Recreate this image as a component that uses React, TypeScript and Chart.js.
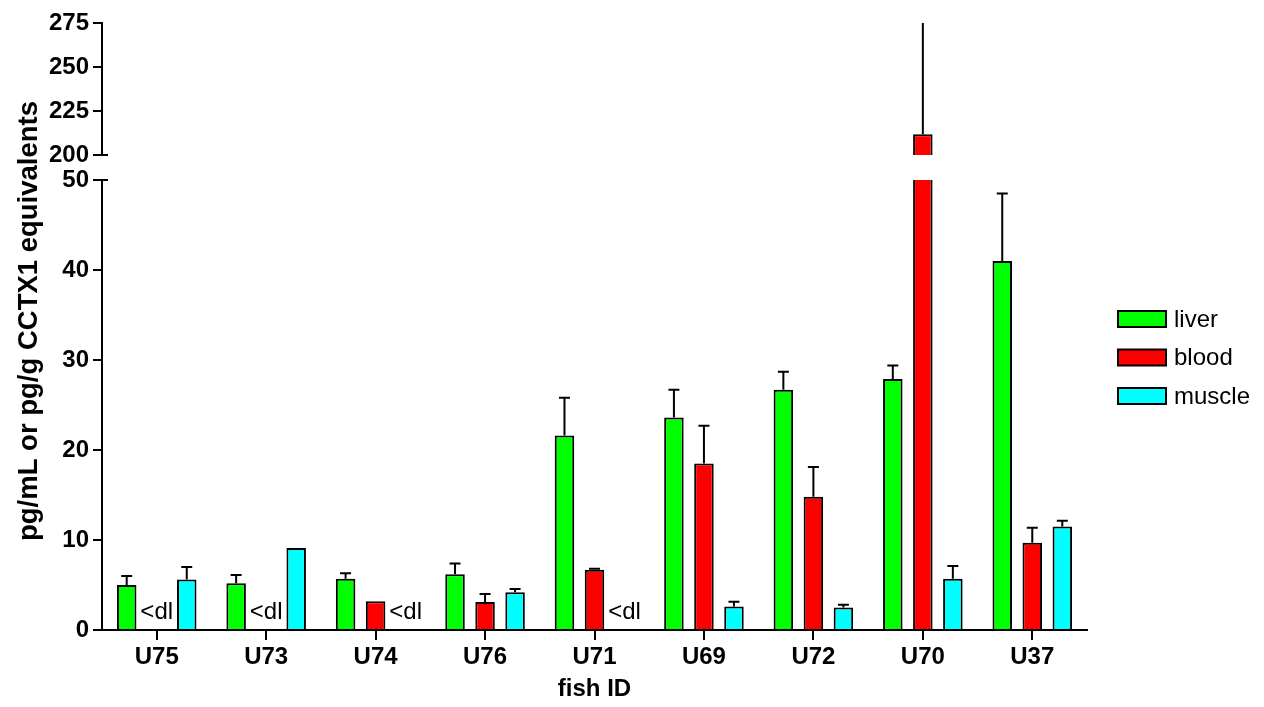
import React, { useEffect, useRef } from 'react';
import { Chart, registerables } from 'chart.js';

Chart.register(...registerables);

// ---- data ----
const categories = ['U75', 'U73', 'U74', 'U76', 'U71', 'U69', 'U72', 'U70', 'U37'];
const seriesNames = ['liver', 'blood', 'muscle'];
const seriesColors = ['#00FF00', '#FF0000', '#00FFFF'];

const liver = [5.0, 5.2, 5.7, 6.2, 21.6, 23.6, 26.7, 27.9, 41.0];
const liverErr = [1.0, 0.9, 0.6, 1.2, 4.2, 3.1, 2.0, 1.5, 7.5];
const blood = [0, 0, 3.2, 3.1, 6.7, 18.5, 14.8, 211.8, 9.7];
const bloodErr = [0, 0, 0, 0.9, 0.1, 4.2, 3.3, 90, 1.65];
const muscle = [5.6, 9.1, 0, 4.2, 0, 2.6, 2.5, 5.7, 11.5];
const muscleErr = [1.4, 0, 0, 0.35, 0, 0.55, 0.3, 1.4, 0.65];

// 1 = below detection limit ("<dl")
const liverBelowDL = [0, 0, 0, 0, 0, 0, 0, 0, 0];
const bloodBelowDL = [1, 1, 0, 0, 0, 0, 0, 0, 0];
const muscleBelowDL = [0, 0, 1, 0, 1, 0, 0, 0, 0];

const lowerTicks = [0, 10, 20, 30, 40, 50];
const upperTicks = [200, 225, 250, 275];

const yTitle = 'pg/mL or pg/g CCTX1 equivalents';
const xTitle = 'fish ID';
const dlLabel = '<dl';

const FONT = "'Liberation Sans', Arial, Helvetica, sans-serif";

function makeDatasets() {
  const vals = [liver, blood, muscle];
  const errs = [liverErr, bloodErr, muscleErr];
  const dls = [liverBelowDL, bloodBelowDL, muscleBelowDL];
  return seriesNames.map((name, i) => ({
    label: name,
    data: vals[i],
    errors: errs[i],
    belowDL: dls[i],
    backgroundColor: seriesColors[i],
    borderColor: '#000',
    borderWidth: 2,
    borderSkipped: 'start',
    categoryPercentage: 0.823,
    barPercentage: 0.65,
    clip: 0,
  }));
}

const errorBarPlugin = {
  id: 'errorBars',
  afterDatasetsDraw(chart: any) {
    const { ctx, chartArea } = chart;
    const y = chart.scales.y;
    ctx.save();
    ctx.beginPath();
    ctx.rect(chartArea.left, chartArea.top, chartArea.right - chartArea.left, chartArea.bottom - chartArea.top);
    ctx.clip();
    ctx.strokeStyle = '#000';
    ctx.lineWidth = 2;
    ctx.beginPath();
    chart.data.datasets.forEach((ds: any, di: number) => {
      const meta = chart.getDatasetMeta(di);
      meta.data.forEach((bar: any, i: number) => {
        const v = ds.data[i];
        const e = ds.errors[i];
        if (!e) return;
        const x = bar.x;
        const y0 = y.getPixelForValue(v);
        const y1 = y.getPixelForValue(v + e);
        ctx.moveTo(x, y0);
        ctx.lineTo(x, y1);
        ctx.moveTo(x - 5.5, y1);
        ctx.lineTo(x + 5.5, y1);
      });
    });
    ctx.stroke();
    ctx.restore();
  },
};

const dlPlugin = {
  id: 'dlLabels',
  afterDatasetsDraw(chart: any) {
    const { ctx } = chart;
    const y = chart.scales.y;
    ctx.save();
    ctx.fillStyle = '#000';
    ctx.font = `24px ${FONT}`;
    ctx.textAlign = 'center';
    ctx.textBaseline = 'alphabetic';
    chart.data.datasets.forEach((ds: any, di: number) => {
      const meta = chart.getDatasetMeta(di);
      meta.data.forEach((bar: any, i: number) => {
        if (ds.belowDL && ds.belowDL[i]) {
          ctx.fillText(dlLabel, bar.x, y.getPixelForValue(0) - 11);
        }
      });
    });
    ctx.restore();
  },
};

const breakPlugin = (edge: 'top' | 'bottom') => ({
  id: 'breakMark',
  afterDraw(chart: any) {
    const { ctx, chartArea } = chart;
    const yy = edge === 'top' ? chartArea.top : chartArea.bottom;
    ctx.save();
    ctx.strokeStyle = '#000';
    ctx.lineWidth = 2;
    ctx.beginPath();
    ctx.moveTo(chartArea.left, yy);
    ctx.lineTo(chartArea.left + 6, yy);
    ctx.stroke();
    ctx.restore();
  },
});

const legendPlugin = {
  id: 'sideLegend',
  afterDraw(chart: any) {
    const { ctx, chartArea } = chart;
    const x0 = chartArea.right + 31;
    const y0 = 319;
    const gap = 38.5;
    ctx.save();
    chart.data.datasets.forEach((ds: any, i: number) => {
      const cy = y0 + i * gap;
      ctx.fillStyle = ds.backgroundColor;
      ctx.fillRect(x0, cy - 8, 48, 16);
      ctx.strokeStyle = '#000';
      ctx.lineWidth = 2;
      ctx.strokeRect(x0, cy - 8, 48, 16);
      ctx.fillStyle = '#000';
      ctx.font = `24px ${FONT}`;
      ctx.textAlign = 'left';
      ctx.textBaseline = 'middle';
      ctx.fillText(ds.label, x0 + 56, cy + 1);
    });
    ctx.restore();
  },
};

const yTitlePlugin = {
  id: 'yTitle',
  afterDraw(chart: any) {
    const { ctx } = chart;
    ctx.save();
    ctx.translate(29, 321);
    ctx.rotate(-Math.PI / 2);
    ctx.fillStyle = '#000';
    ctx.font = `bold 27.5px ${FONT}`;
    ctx.textAlign = 'center';
    ctx.textBaseline = 'middle';
    ctx.fillText(yTitle, 0, 0);
    ctx.restore();
  },
};

const tickFont = { family: FONT, size: 24, weight: 'bold' as const };

export default function App() {
  const lowerRef = useRef<HTMLCanvasElement>(null);
  const upperRef = useRef<HTMLCanvasElement>(null);

  useEffect(() => {
    const lower = new Chart(lowerRef.current as HTMLCanvasElement, {
      type: 'bar',
      data: { labels: categories, datasets: makeDatasets() as any },
      options: {
        responsive: false,
        animation: false,
        layout: { padding: { top: 180, right: 177, bottom: 0, left: 0 } },
        plugins: { legend: { display: false }, tooltip: { enabled: false } },
        scales: {
          x: {
            grid: { offset: false, drawOnChartArea: false, drawTicks: true, tickLength: 10, color: '#000', lineWidth: 2 },
            border: { color: '#000', width: 2 },
            ticks: { color: '#000', font: tickFont, padding: 3, maxRotation: 0 },
            title: { display: true, text: xTitle, color: '#000', font: tickFont, padding: { top: 0, bottom: 3 } },
            afterFit: (s: any) => { s.height = 77; },
          },
          y: {
            min: lowerTicks[0],
            max: lowerTicks[lowerTicks.length - 1],
            ticks: { stepSize: lowerTicks[1] - lowerTicks[0], color: '#000', font: tickFont, padding: 4 },
            grid: { drawOnChartArea: false, drawTicks: true, tickLength: 9, color: '#000', lineWidth: 2 },
            border: { color: '#000', width: 2 },
            afterFit: (s: any) => { s.width = 102; },
          },
        },
      },
      plugins: [errorBarPlugin, dlPlugin, breakPlugin('top'), legendPlugin, yTitlePlugin],
    });

    const upper = new Chart(upperRef.current as HTMLCanvasElement, {
      type: 'bar',
      data: { labels: categories, datasets: makeDatasets() as any },
      options: {
        responsive: false,
        animation: false,
        layout: { padding: { top: 23, right: 177, bottom: 25, left: 0 } },
        plugins: { legend: { display: false }, tooltip: { enabled: false } },
        scales: {
          x: { display: false },
          y: {
            min: upperTicks[0],
            max: upperTicks[upperTicks.length - 1],
            ticks: { stepSize: upperTicks[1] - upperTicks[0], color: '#000', font: tickFont, padding: 4 },
            grid: { drawOnChartArea: false, drawTicks: true, tickLength: 9, color: '#000', lineWidth: 2 },
            border: { color: '#000', width: 2 },
            afterFit: (s: any) => { s.width = 102; },
          },
        },
      },
      plugins: [errorBarPlugin, breakPlugin('bottom')],
    });

    return () => {
      lower.destroy();
      upper.destroy();
    };
  }, []);

  return (
    <div style={{ position: 'fixed', left: 0, top: 0, width: 1264, height: 707, background: '#fff' }}>
      <canvas ref={lowerRef} width={1264} height={707} style={{ position: 'absolute', left: 0, top: 0 }} />
      <canvas ref={upperRef} width={1264} height={180} style={{ position: 'absolute', left: 0, top: 0 }} />
    </div>
  );
}
